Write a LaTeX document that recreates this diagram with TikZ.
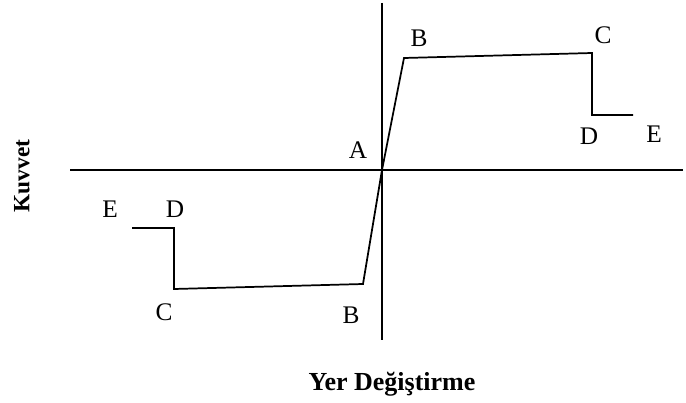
\documentclass[tikz,border=0pt]{standalone}
\usepackage{fontspec}
\setmainfont{Liberation Serif}
\usetikzlibrary{positioning}
\tikzset{lbl/.style = {font=\fontsize{19}{21}\selectfont, inner sep = 0},
  ttl/.style = {font=\fontsize{19.5}{21}\selectfont\bfseries, inner sep = 0},
  axis/.style = {line width = 0.8pt},
  curve/.style = {line width = 1.3pt, line join = miter}}

\begin{document}
\begin{tikzpicture}[x=0.75pt, y=-0.75pt]
    \useasboundingbox (0,0) rectangle (686,403);
    % axes
    \coordinate (top) at (382,3);
    \coordinate (bot) at (382,340);
    \coordinate (lft) at (70,170);
    \coordinate (rgt) at (683,170);
    \draw[axis] (top) -- (bot);
    \draw[axis] (lft) -- (rgt);
    % curve points
    \coordinate (a) at (382,170);
    \coordinate (b1) at (404,58);
    \coordinate (c1) at (592,53);
    \coordinate (d1) at (592,115);
    \coordinate (e1) at (633,115);
    \coordinate (b2) at (363,284);
    \coordinate (c2) at (174,289);
    \coordinate (d2) at (174,228);
    \coordinate (e2) at (132,228);
    \draw[curve] (e1) -- (d1) -- (c1) -- (b1) -- (a) -- (b2) -- (c2) -- (d2) -- (e2);
    % point labels
    \foreach \p/\name/\x/\y in {la/A/358/150, lb1/B/419/38, lc1/C/603/35, ld1/D/589/136, le1/E/654/134,
                                lb2/B/351/315, lc2/C/164/312, ld2/D/175/209, le2/E/110/209} {
        \node[lbl] (\p) at (\x,\y) {\name};
    }
    % axis titles
    \node[ttl, font=\fontsize{17.5}{19}\selectfont\bfseries, rotate=90] (kuvvet) at (22,176) {Kuvvet};
    \node[ttl] (yer) at (392,384) {Yer Değiştirme};
  \end{tikzpicture}
\end{document}
